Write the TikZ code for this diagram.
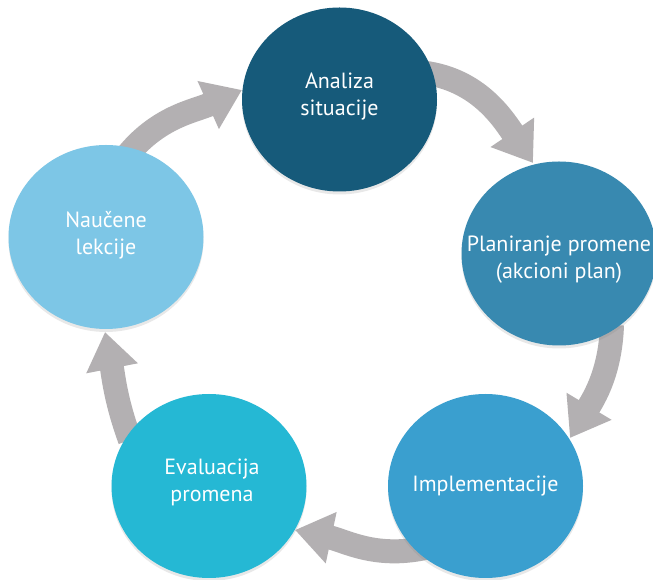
\documentclass[tikz,border=0pt]{standalone}
\usepackage{fontspec}
\setmainfont{PT Sans}
\usetikzlibrary{arrows.meta,shapes.geometric,shadows}
\definecolor{cA}{RGB}{22,90,122}
\definecolor{cB}{RGB}{56,137,176}
\definecolor{cC}{RGB}{58,159,207}
\definecolor{cD}{RGB}{37,184,212}
\definecolor{cE}{RGB}{125,198,230}
\definecolor{arrgray}{RGB}{179,176,178}
\begin{document}
\begin{tikzpicture}[x=1pt,y=1pt,
  bubble/.style={ellipse, minimum width=195pt, minimum height=184pt, inner sep=0pt,
    drop shadow={opacity=0.18, shadow xshift=0pt, shadow yshift=-3pt}},
  bubbletext/.style={text=white, align=center, inner sep=0pt,
    font=\fontsize{22}{27}\selectfont},
  cyclearrow/.style={draw=arrgray, line width=24pt,
    -{Triangle[length=37pt,width=50pt]}}]
\useasboundingbox (0,0) rectangle (653,580);
\clip (0,0) rectangle (653,580);
\fill[white] (0,0) rectangle (653,580);
% arrow end points
\coordinate (ab1) at (418,508);
\coordinate (ab2) at (533,417);
\coordinate (bc1) at (612,255);
\coordinate (bc2) at (570,142);
\coordinate (cd1) at (425,32);
\coordinate (cd2) at (295,50);
\coordinate (de1) at (130,140);
\coordinate (de2) at (105,248);
\coordinate (ea1) at (125,422);
\coordinate (ea2) at (242,490);
% arrows
\draw[cyclearrow] (ab1) to[out=-5,in=124] (ab2);
\draw[cyclearrow] (bc1) to[out=-92,in=59] (bc2);
\draw[cyclearrow] (cd1) to[out=192,in=-12] (cd2);
\draw[cyclearrow] (de1) to[out=110,in=-79] (de2);
\draw[cyclearrow] (ea1) to[out=52,in=-156] (ea2);
% circles
\node[bubble, fill=cA] (a) at (339.5,480.5) {};
\node[bubble, fill=cB] (b) at (559,326.5) {};
\node[bubble, fill=cC] (c) at (485.5,94) {};
\node[bubble, fill=cD] (d) at (209,94) {};
\node[bubble, fill=cE] (e) at (106,343) {};
% texts
\node[bubbletext] (ta) at ([yshift=3pt]a.center) {Analiza\\situacije};
\node[bubbletext] (tb) at ([yshift=-6pt]b.center) {Planiranje promene\\(akcioni plan)};
\node[bubbletext] (tc) at (c.center) {Implementacije};
\node[bubbletext] (td) at ([xshift=3pt,yshift=4pt]d.center) {Evaluacija\\promena};
\node[bubbletext] (te) at ([yshift=2pt]e.center) {Naučene\\lekcije};
\end{tikzpicture}
\end{document}
